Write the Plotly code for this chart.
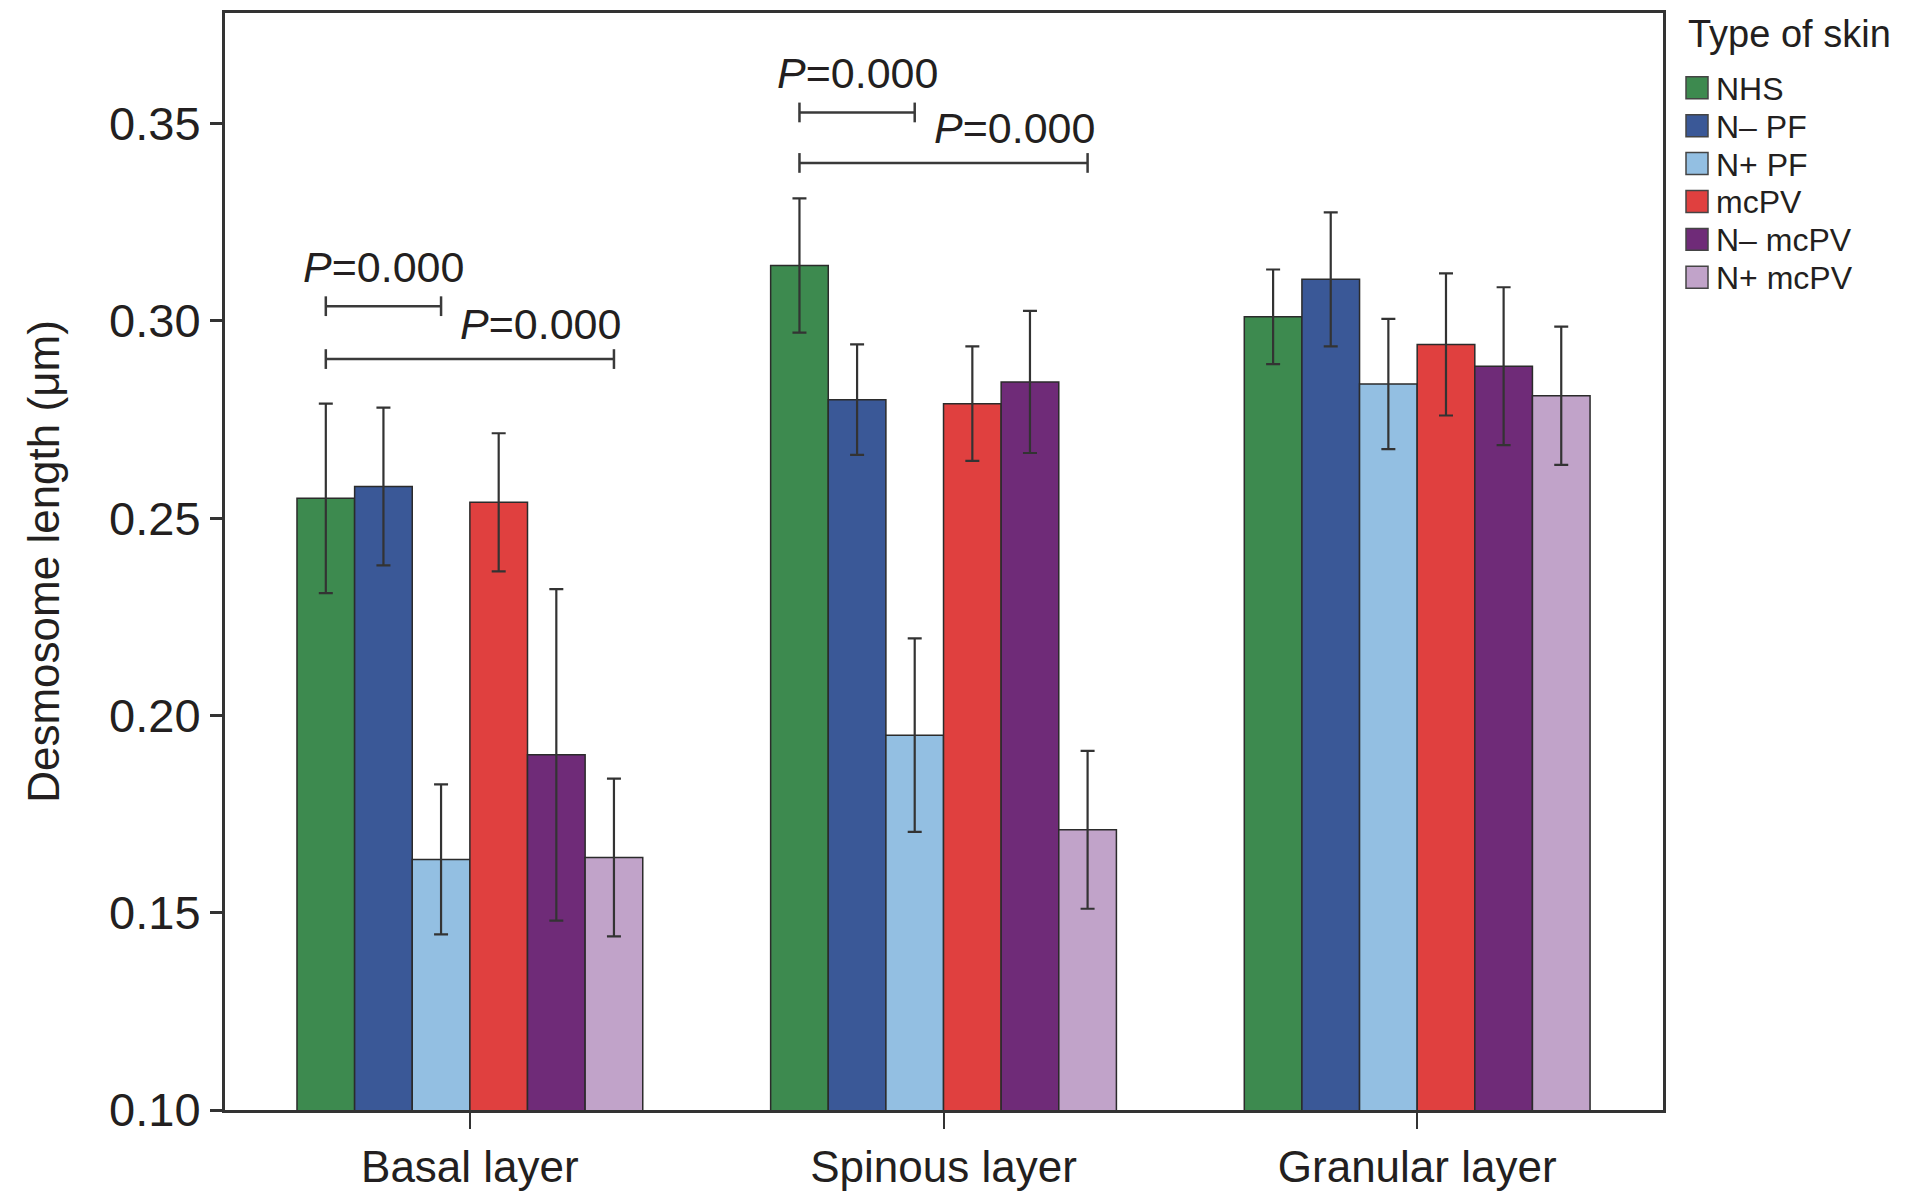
import plotly.graph_objects as go

layers = ["Basal layer", "Spinous layer", "Granular layer"]
skin_types = ["NHS", "N\u2013 PF", "N+ PF", "mcPV", "N\u2013 mcPV", "N+ mcPV"]
colors = ["#3d8a4f", "#3a5897", "#93bfe2", "#e0403f", "#6f2b78", "#c1a3c9"]

# mean desmosome length per layer, one list per skin type
nhs = [0.255, 0.314, 0.301]
n_minus_pf = [0.258, 0.280, 0.3105]
n_plus_pf = [0.1635, 0.195, 0.284]
mcpv = [0.254, 0.279, 0.294]
n_minus_mcpv = [0.190, 0.2845, 0.2885]
n_plus_mcpv = [0.164, 0.171, 0.281]

# error bar half-lengths
err_nhs = [0.024, 0.017, 0.012]
err_n_minus_pf = [0.020, 0.014, 0.017]
err_n_plus_pf = [0.019, 0.0245, 0.0165]
err_mcpv = [0.0175, 0.0145, 0.018]
err_n_minus_mcpv = [0.042, 0.018, 0.020]
err_n_plus_mcpv = [0.020, 0.020, 0.0175]

means = [nhs, n_minus_pf, n_plus_pf, mcpv, n_minus_mcpv, n_plus_mcpv]
errs = [err_nhs, err_n_minus_pf, err_n_plus_pf, err_mcpv, err_n_minus_mcpv, err_n_plus_mcpv]

# significance brackets: (layer index, from series, to series, bracket y, label y)
brackets = [
    (0, 0, 2, 0.3037, 0.3136),
    (0, 0, 5, 0.2903, 0.2992),
    (1, 0, 2, 0.3528, 0.3628),
    (1, 0, 5, 0.3400, 0.3488),
]
p_label = "<i>P</i>=0.000"

FONT = "Liberation Sans, Arial, sans-serif"
TXT = "#231f20"
BARGAP = 0.27

fig = go.Figure()
for name, col, m, e in zip(skin_types, colors, means, errs):
    fig.add_trace(go.Bar(
        x=layers, y=m, name=name, showlegend=False,
        marker=dict(color=col, line=dict(color="#2b2b2b", width=1.5)),
        error_y=dict(type="data", array=e, visible=True, color="#333333",
                     thickness=2.2, width=7),
    ))


def bar_x(layer, series):
    w = (1 - BARGAP) / len(skin_types)
    return layer - (1 - BARGAP) / 2 + (series + 0.5) * w


for layer, a, b, yb, yl in brackets:
    x0, x1 = bar_x(layer, a), bar_x(layer, b)
    lc = dict(color="#3a3a3a", width=2.5)
    fig.add_shape(type="line", xref="x", yref="y", x0=x0, x1=x1, y0=yb, y1=yb, line=lc)
    for xx in (x0, x1):
        fig.add_shape(type="line", xref="x", yref="y", x0=xx, x1=xx,
                      y0=yb - 0.0025, y1=yb + 0.0025, line=lc)
    if b == 2:
        fig.add_annotation(x=(x0 + x1) / 2, y=yl, text=p_label, showarrow=False,
                           xanchor="center", font=dict(size=43, color=TXT))
    else:
        fig.add_annotation(x=x1 + 0.02, y=yl, text=p_label, showarrow=False,
                           xanchor="right", font=dict(size=43, color=TXT))

# legend drawn by hand so the rows sit as tightly as in the original
PLOT_L, PLOT_W, PLOT_B, PLOT_H = 225, 1438, 1110, 1100


def px(xp):
    return (xp - PLOT_L) / PLOT_W


def py(yp):
    return (PLOT_B - yp) / PLOT_H


fig.add_annotation(xref="paper", yref="paper", x=px(1686), y=py(31), xanchor="left",
                   yanchor="middle", text="Type of skin", showarrow=False,
                   font=dict(size=38, color=TXT))
for i, (name, col) in enumerate(zip(skin_types, colors)):
    yc = 85 + i * 38
    fig.add_shape(type="rect", xref="paper", yref="paper",
                  x0=px(1686), x1=px(1708), y0=py(yc + 11), y1=py(yc - 11),
                  fillcolor=col, line=dict(color="#444444", width=1.5))
    fig.add_annotation(xref="paper", yref="paper", x=px(1714), y=py(yc + 1),
                       xanchor="left", yanchor="middle", text=name, showarrow=False,
                       font=dict(size=32, color=TXT))

fig.update_layout(
    width=1932, height=1194,
    barmode="group", bargap=BARGAP, bargroupgap=0,
    plot_bgcolor="white", paper_bgcolor="white",
    margin=dict(l=217, r=277, t=2, b=92),
    font=dict(family=FONT, size=40, color=TXT),
    showlegend=False,
)
fig.update_xaxes(
    type="category", range=[-0.517, 2.519],
    showline=True, linecolor="#333333", linewidth=3, mirror=True,
    ticks="outside", ticklen=16, tickwidth=2, tickcolor="#333333",
    tickfont=dict(size=44),
)
fig.update_yaxes(
    range=[0.10, 0.378], tickvals=[0.10, 0.15, 0.20, 0.25, 0.30, 0.35],
    tickformat=".2f", showgrid=False, zeroline=False,
    showline=True, linecolor="#333333", linewidth=3, mirror=True,
    ticks="outside", ticklen=12, tickwidth=2.5, tickcolor="#333333",
    tickfont=dict(size=47),
    title=dict(text="Desmosome length (\u03bcm)", font=dict(size=44), standoff=36),
)

fig.write_html("out.html")
